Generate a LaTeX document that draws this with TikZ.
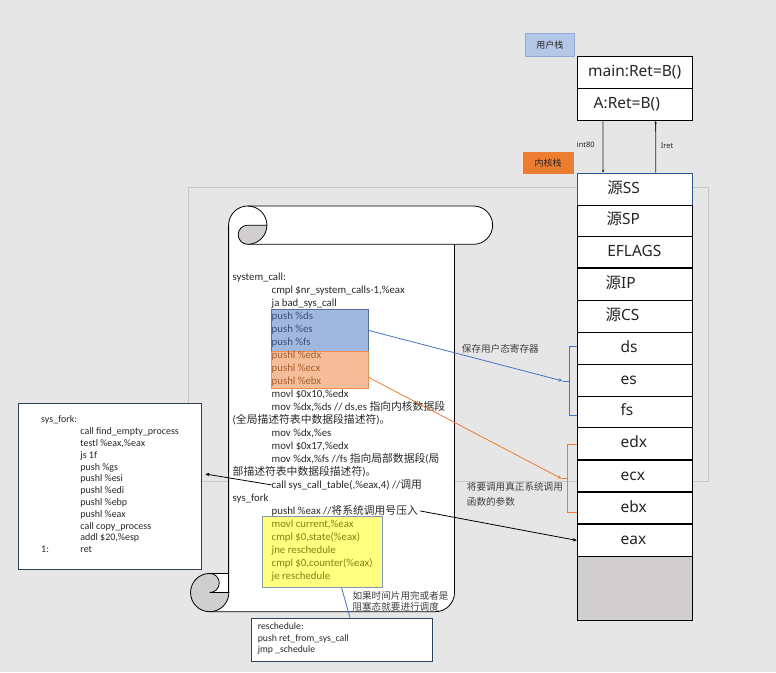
\documentclass[tikz,border=0pt]{standalone}
\usepackage{fontspec}
\setmainfont{Carlito}
\newfontfamily\cjk{Noto Sans CJK SC}
\newfontfamily\uisans{Noto Sans}
\usetikzlibrary{arrows.meta}

\definecolor{bgc}{RGB}{231,230,230}
\definecolor{framec}{RGB}{200,200,200}
\definecolor{blfill}{RGB}{160,184,224}
\definecolor{bldraw}{RGB}{82,112,170}
\definecolor{bltext}{RGB}{60,78,115}
\definecolor{orfill}{RGB}{246,190,152}
\definecolor{ordraw}{RGB}{240,140,80}
\definecolor{ortext}{RGB}{165,95,50}
\definecolor{yefill}{RGB}{255,255,128}
\definecolor{yedraw}{RGB}{132,151,176}
\definecolor{yetext}{RGB}{130,130,20}
\definecolor{linkblue}{RGB}{68,114,196}
\definecolor{linkorange}{RGB}{237,125,49}
\definecolor{navy}{RGB}{47,64,96}
\definecolor{curlgray}{RGB}{208,206,206}
\definecolor{usertag}{RGB}{180,199,231}
\definecolor{usertagdraw}{RGB}{143,170,220}
\definecolor{kerneltag}{RGB}{237,125,49}
\definecolor{inkc}{RGB}{38,38,38}
\definecolor{codeink}{RGB}{40,40,40}
\definecolor{notec}{RGB}{64,64,64}
\definecolor{topcell}{RGB}{47,85,151}
\definecolor{stackgray}{RGB}{208,206,206}

\newcommand\codesize{\fontsize{10.8}{13}\selectfont}
\newcommand\forksize{\fontsize{10}{12}\selectfont}
\newcommand\celltxt[2]{\makebox[#1pt][l]{#2}}

\begin{document}
\begin{tikzpicture}[x=1pt,y=1pt,
  code/.style={anchor=west, inner sep=0pt, font=\codesize, text=codeink, text height=7pt, text depth=0pt},
  forkline/.style={anchor=west, inner sep=0pt, font=\forksize, text=codeink, text height=6.5pt, text depth=0pt},
  reline/.style={anchor=west, inner sep=0pt, font=\fontsize{9.7}{11}\selectfont, text=codeink, text height=6.5pt, text depth=0pt},
  note/.style={anchor=west, inner sep=0pt, font=\cjk\fontsize{9.6}{11}\selectfont, text=notec, text height=7pt, text depth=0pt},
  tiny/.style={anchor=west, inner sep=0pt, font=\uisans\fontsize{7.5}{9}\selectfont, text=inkc, text height=5.5pt, text depth=0pt},
  tag/.style={anchor=north west, inner sep=0pt, font=\cjk\fontsize{9}{10}\selectfont, text=inkc},
  plainbox/.style={anchor=north west, inner sep=0pt, draw=navy, fill=white, line width=0.8pt},
  hilite/.style={anchor=north west, inner sep=0pt, line width=0.8pt},
  cell/.style={anchor=north west, draw=black, fill=white, line width=0.8pt, inner sep=0pt,
    minimum width=115.2, font=\uisans\fontsize{15.5}{18}\selectfont, text=inkc,
    text height=11pt, text depth=3pt},
  usercell/.style={cell, minimum width=115},
  scrollline/.style={draw=black, line width=0.8pt},
  tip/.style={-{Stealth[length=4pt,width=3.5pt]}},
  smalltip/.style={-{Stealth[length=3pt,width=2.6pt]}}
]
\useasboundingbox (0,0) rectangle (776,-672);
\fill[bgc] (0,0) rectangle (776,-672);

% light frame behind the scroll
\draw[framec, line width=0.9pt] (188,-187.3) rectangle (708.5,-481.3);

% ---- scroll ----
% body
\fill[white] (228.6,-225.15) -- (454.5,-225.15) -- (454.5,-592.55)
  arc[start angle=0,end angle=-90,radius=19.15] -- (209.7,-611.7) -- (209.7,-573.4) -- (228.6,-573.4) -- cycle;
\draw[scrollline] (209.7,-611.7) -- (435.35,-611.7) arc[start angle=-90,end angle=0,radius=19.15] -- (454.5,-244.3);
% top roll
\fill[white, rounded corners=19.15] (228.6,-206) rectangle (492.65,-244.3);
\draw[scrollline] (247.75,-244.3) -- (473.5,-244.3) arc[start angle=-90,end angle=90,radius=19.15]
  -- (247.75,-206) arc[start angle=90,end angle=180,radius=19.15] -- (228.6,-592.55);
\draw[scrollline] (247.75,-206) arc[start angle=90,end angle=0,radius=19.15];
\filldraw[scrollline, fill=curlgray] (247.75,-225.15) -- (266.9,-225.15)
  arc[start angle=0,end angle=-90,radius=19.15]
  arc[start angle=270,end angle=90,radius=9.575] -- cycle;
% bottom curl
\filldraw[scrollline, fill=curlgray] (209.7,-573.4) arc[start angle=90,end angle=360,radius=19.15]
  -- (209.7,-592.55) arc[start angle=-90,end angle=90,radius=9.575] -- cycle;
\draw[scrollline] (209.7,-573.4) -- (228.6,-573.4);

% ---- highlighted groups ----
\node[hilite, draw=bldraw, fill=blfill, minimum width=96.3, minimum height=42.9] (bluebox) at (271.3,-308.5) {};
\node[hilite, draw=ordraw, fill=orfill, minimum width=96.3, minimum height=36.9] (orangebox) at (271.3,-351.4) {};
\node[hilite, draw=yedraw, fill=yefill, minimum width=120, minimum height=71.3] (yellowbox) at (262.3,-516) {};

% ---- system_call listing ----
\node[code] (L1)  at (232.5,-276.9) {system\_call:};
\node[code] (L2)  at (271.5,-289.9) {cmpl \$nr\_system\_calls-1,\%eax};
\node[code] (L3)  at (271.5,-302.9) {ja bad\_sys\_call};
\node[code, text=bltext] (L4)  at (271.5,-315.9) {push \%ds};
\node[code, text=bltext] (L5)  at (271.5,-328.9) {push \%es};
\node[code, text=bltext] (L6)  at (271.5,-341.9) {push \%fs};
\node[code, text=ortext] (L7)  at (271.5,-354.9) {pushl \%edx};
\node[code, text=ortext] (L8)  at (271.5,-367.9) {pushl \%ecx};
\node[code, text=ortext] (L9)  at (271.5,-380.9) {pushl \%ebx};
\node[code] (L10) at (271.5,-393.9) {movl \$0x10,\%edx};
\node[code] (L11) at (271.5,-406.9) {mov \%dx,\%ds // ds,es {\cjk 指向内核数据段}};
\node[code] (L12) at (232.5,-419.9) {({\cjk 全局描述符表中数据段描述符}){\cjk 。}};
\node[code] (L13) at (271.5,-432.9) {mov \%dx,\%es};
\node[code] (L14) at (271.5,-445.9) {movl \$0x17,\%edx};
\node[code] (L15) at (271.5,-458.9) {mov \%dx,\%fs //fs {\cjk 指向局部数据段}({\cjk 局}};
\node[code] (L16) at (232.5,-471.9) {{\cjk 部描述符表中数据段描述符}){\cjk 。}};
\node[code] (L17) at (271.5,-484.9) {call sys\_call\_table(,\%eax,4) //{\cjk 调用}};
\node[code] (L18) at (232.5,-497.9) {sys\_fork};
\node[code] (L19) at (271.5,-510.9) {pushl \%eax //{\cjk 将系统调用号压入}};
\node[code, text=yetext] (L20) at (271.5,-523.9) {movl current,\%eax};
\node[code, text=yetext] (L21) at (271.5,-536.9) {cmpl \$0,state(\%eax)};
\node[code, text=yetext] (L22) at (271.5,-549.9) {jne reschedule};
\node[code, text=yetext] (L23) at (271.5,-562.9) {cmpl \$0,counter(\%eax)};
\node[code, text=yetext] (L24) at (271.5,-575.9) {je reschedule};

% ---- sys_fork listing ----
\node[plainbox, minimum width=182.2, minimum height=165.8] (sysfork) at (18.3,-403) {};
\node[forkline] (F1)  at (41,-419.6) {sys\_fork:};
\node[forkline] (F2)  at (80.2,-431.4) {call find\_empty\_process};
\node[forkline] (F3)  at (80.2,-443.2) {testl \%eax,\%eax};
\node[forkline] (F4)  at (80.2,-455.0) {js 1f};
\node[forkline] (F5)  at (80.2,-466.8) {push \%gs};
\node[forkline] (F6)  at (80.2,-478.6) {pushl \%esi};
\node[forkline] (F7)  at (80.2,-490.4) {pushl \%edi};
\node[forkline] (F8)  at (80.2,-502.2) {pushl \%ebp};
\node[forkline] (F9)  at (80.2,-514.0) {pushl \%eax};
\node[forkline] (F10) at (80.2,-525.8) {call copy\_process};
\node[forkline] (F11) at (80.2,-537.6) {addl \$20,\%esp};
\node[forkline] (F12) at (41,-549.4) {1:};
\node[forkline] (F13) at (80.2,-549.4) {ret};

% ---- reschedule listing ----
\node[plainbox, minimum width=181.6, minimum height=43.8] (resched) at (250.7,-617.5) {};
\node[reline] (R1) at (257.7,-626.7) {reschedule:};
\node[reline] (R2) at (257.7,-637.9) {push ret\_from\_sys\_call};
\node[reline] (R3) at (257.7,-649.1) {jmp \_schedule};

% ---- notes ----
\node[note] (n1) at (461.7,-349.3) {保存用户态寄存器};
\node[note] (n2) at (466.7,-487.3) {将要调用真正系统调用};
\node[note] (n3) at (466.7,-501.7) {函数的参数};
\node[note] (n4) at (352.3,-596.2) {如果时间片用完或者是};
\node[note] (n5) at (352.3,-606.7) {阻塞态就要进行调度};

% ---- user stack ----
\node[tag, fill=usertag, draw=usertagdraw, line width=0.6pt, minimum width=49.3, minimum height=22.4] (utag) at (525,-33.3) {用户栈};
\node[usercell, minimum height=31.7] (userM) at (576.7,-56) {\celltxt{93}{main:Ret=B()}};
\node[usercell, minimum height=32.3] (userA) at (576.7,-87.7) {\celltxt{81.8}{A:Ret=B()}};
\node[tag, fill=kerneltag, minimum width=50.6, minimum height=22.3] (ktag) at (522.7,-151.7) {内核栈};

% ---- kernel stack ----
\node[cell, draw=topcell, minimum height=31.8] (ss)  at (576.8,-172.7) {\celltxt{55}{{\cjk 源}SS}};
\node[cell, minimum height=31.8] (sp)  at (576.8,-204.5) {\celltxt{56.4}{{\cjk 源}SP}};
\node[cell, minimum height=31.9] (efl) at (576.8,-236.3) {\celltxt{55}{EFLAGS}};
\node[cell, minimum height=31.8] (ip)  at (576.8,-268.2) {\celltxt{58.4}{{\cjk 源}IP}};
\node[cell, minimum height=32.0] (cs)  at (576.8,-300.0) {\celltxt{58.4}{{\cjk 源}CS}};
\node[cell, minimum height=31.7] (ds)  at (576.8,-332.0) {\celltxt{28.4}{ds}};
\node[cell, minimum height=31.8] (es)  at (576.8,-363.7) {\celltxt{28.4}{es}};
\node[cell, minimum height=31.8] (fs)  at (576.8,-395.5) {\celltxt{28.4}{fs}};
\node[cell, minimum height=32.2] (edx) at (576.8,-427.3) {\celltxt{28.4}{edx}};
\node[cell, minimum height=32.2] (ecx) at (576.8,-459.5) {\celltxt{28.4}{ecx}};
\node[cell, minimum height=32.3] (ebx) at (576.8,-491.7) {\celltxt{28.4}{ebx}};
\node[cell, minimum height=32.0] (eax) at (576.8,-524.0) {\celltxt{28.4}{eax}};
\node[cell, fill=stackgray, minimum height=64] (free) at (576.8,-556.0) {};
\foreach \c in {ip,ecx,ebx,eax}
  \draw[line width=1.8pt] (\c.north west) -- (\c.north east);

% ---- int80 / iret ----
\draw[inkc, line width=0.8pt, smalltip] ([xshift=-31.7pt]userA.south) -- ([xshift=-31.7pt]ss.north);
\draw[inkc, line width=0.8pt, smalltip] ([xshift=21pt]ss.north) -- ([xshift=21pt]userA.south);
\node[tiny] (lint) at (576.7,-145) {int80};
\node[tiny] (liret) at (660.7,-146) {Iret};

% ---- braces beside the saved registers ----
\coordinate (bluetip) at (562.5,-380.9);
\coordinate (orangetip) at (561.5,-478.6);
\draw[linkblue, line width=0.8pt] (576.8,-346.5) -- (569.3,-346.5) -- (569.3,-415.3) -- (576.8,-415.3);
\draw[linkblue, line width=0.8pt] (bluetip) -- (569.3,-380.9);
\draw[linkorange, line width=0.8pt] (576.8,-444.4) -- (567.5,-444.4) -- (567.5,-512.8) -- (576.8,-512.8);
\draw[linkorange, line width=0.8pt] (orangetip) -- (567.5,-478.6);

% ---- connectors ----
\coordinate (forkin) at (205.4,-474);
\draw[linkblue, line width=0.8pt, tip] (bluebox.east) -- (bluetip);
\draw[linkorange, line width=0.8pt, tip] ([yshift=-7pt]orangebox.east) -- (orangetip);
\draw[black, line width=0.8pt, tip] (L17.west) -- (forkin);
\draw[black, line width=0.8pt, tip] ([xshift=2pt]L19.east) -- (eax.west);
\draw[linkblue, line width=0.8pt] ([xshift=19pt]yellowbox.south) -- ([xshift=8pt]resched.north);
\end{tikzpicture}
\end{document}
